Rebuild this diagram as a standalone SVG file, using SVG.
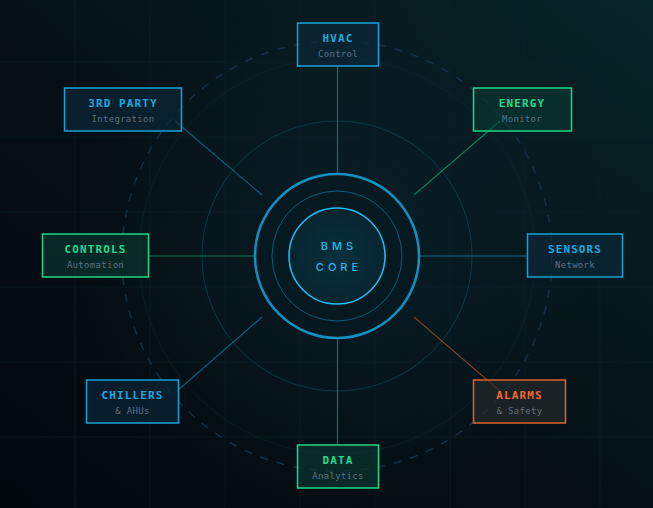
<svg xmlns="http://www.w3.org/2000/svg" width="653" height="508" viewBox="0 0 653 508">
<defs>
<linearGradient id="bg" x1="0" y1="1" x2="1" y2="0">
<stop offset="0" stop-color="#03080d"/>
<stop offset="0.45" stop-color="#050f15"/>
<stop offset="1" stop-color="#072428"/>
</linearGradient>
<radialGradient id="glow" cx="337" cy="256" r="260" gradientUnits="userSpaceOnUse">
<stop offset="0" stop-color="#0a2a33" stop-opacity="0.5"/>
<stop offset="1" stop-color="#0a2a33" stop-opacity="0"/>
</radialGradient>
<radialGradient id="core" cx="337" cy="256" r="48" gradientUnits="userSpaceOnUse">
<stop offset="0" stop-color="#08303c"/>
<stop offset="1" stop-color="#06252f"/>
</radialGradient>
<style>
.grid{stroke:#0d2530;stroke-width:1;opacity:0.45}
.t{font-family:"DejaVu Sans Mono","Liberation Mono",monospace;font-size:11px;font-weight:bold;letter-spacing:1.1px;text-anchor:middle}
.s{font-family:"DejaVu Sans Mono","Liberation Mono",monospace;font-size:9px;letter-spacing:0.3px;text-anchor:middle;fill:#5d7182}
.nb rect{fill:#0c2a3e;fill-opacity:0.6;stroke:#14a3d8;stroke-width:1.5}
.nb text.t{fill:#1aa9df}
.ng rect{fill:#083a34;fill-opacity:0.6;stroke:#1fd68c;stroke-width:1.5}
.ng text.t{fill:#22d98c}
.no rect{fill:#25292b;fill-opacity:0.7;stroke:#e2622e;stroke-width:1.5}
.no text.t{fill:#ec6a34}
.c{stroke-width:1.1;fill:none;opacity:0.85}
</style>
</defs>
<rect width="653" height="508" fill="url(#bg)"/>
<rect width="653" height="508" fill="url(#glow)"/>
<g id="grid">
<path class="grid" d="M75 0V508M150 0V508M225 0V508M300 0V508M375 0V508M450 0V508M525 0V508M600 0V508M0 62H653M0 137H653M0 212H653M0 287H653M0 362H653M0 437H653"/>
</g>
<g id="rings" fill="none">
<circle cx="337" cy="256" r="215" stroke="#163550" stroke-width="1.5" stroke-dasharray="8 9" opacity="0.85"/>
<circle cx="337" cy="256" r="198" stroke="#0d3340" stroke-width="1" opacity="0.35"/>
<circle cx="337" cy="256" r="135" stroke="#0f4a5c" stroke-width="1" opacity="0.65"/>
</g>
<g id="connectors">
<line class="c" x1="337.5" y1="66" x2="337.5" y2="174" stroke="#1a7d90"/>
<line class="c" x1="337.5" y1="338" x2="337.5" y2="445" stroke="#1a8a5e"/>
<line class="c" x1="148" y1="256" x2="256" y2="256" stroke="#1a8a5e"/>
<line class="c" x1="419" y1="256" x2="527" y2="256" stroke="#16769a"/>
<line class="c" x1="175" y1="121" x2="262" y2="195" stroke="#166a8a"/>
<line class="c" x1="500" y1="121" x2="414" y2="195" stroke="#1a8a5e"/>
<line class="c" x1="177" y1="391" x2="262" y2="317" stroke="#166a8a"/>
<line class="c" x1="414" y1="317" x2="500" y2="391" stroke="#8a4a2c"/>
</g>
<g id="core-node">
<circle cx="337" cy="256" r="82" fill="#051820" fill-opacity="0.5" stroke="#1390c0" stroke-width="2.5"/>
<circle cx="337" cy="256" r="65" fill="none" stroke="#0f5a75" stroke-width="1"/>
<circle cx="337" cy="256" r="48" fill="url(#core)" stroke="#1ec0f2" stroke-width="1.5"/>
<text x="339" y="250" font-family="Inter,'Liberation Sans',sans-serif" font-size="11" font-weight="500" letter-spacing="4" fill="#28b4e6" text-anchor="middle">BMS</text>
<text x="339" y="271" font-family="Inter,'Liberation Sans',sans-serif" font-size="11" font-weight="500" letter-spacing="4" fill="#28b4e6" text-anchor="middle">CORE</text>
</g>
<g id="hvac" class="nb">
<rect x="297.5" y="23" width="81" height="43"/>
<text class="t" x="338" y="42">HVAC</text>
<text class="s" x="338" y="57">Control</text>
</g>
<g id="third-party" class="nb">
<rect x="64.5" y="88" width="117" height="43"/>
<text class="t" x="123" y="107">3RD PARTY</text>
<text class="s" x="123" y="122">Integration</text>
</g>
<g id="energy" class="ng">
<rect x="473.5" y="88" width="98" height="43"/>
<text class="t" x="522" y="107">ENERGY</text>
<text class="s" x="522" y="122">Monitor</text>
</g>
<g id="controls" class="ng">
<rect x="42.5" y="234" width="106" height="43"/>
<text class="t" x="95.5" y="253">CONTROLS</text>
<text class="s" x="95.5" y="268">Automation</text>
</g>
<g id="sensors" class="nb">
<rect x="527.5" y="234" width="95" height="43"/>
<text class="t" x="575" y="253">SENSORS</text>
<text class="s" x="575" y="268">Network</text>
</g>
<g id="chillers" class="nb">
<rect x="86.5" y="380" width="92" height="43"/>
<text class="t" x="132.5" y="399">CHILLERS</text>
<text class="s" x="132.5" y="414">&amp; AHUs</text>
</g>
<g id="alarms" class="no">
<rect x="473.5" y="380" width="92" height="43"/>
<text class="t" x="519.5" y="399">ALARMS</text>
<text class="s" x="519.5" y="414">&amp; Safety</text>
</g>
<g id="data" class="ng">
<rect x="297.5" y="445" width="81" height="43"/>
<text class="t" x="338" y="464">DATA</text>
<text class="s" x="338" y="479">Analytics</text>
</g>
</svg>
